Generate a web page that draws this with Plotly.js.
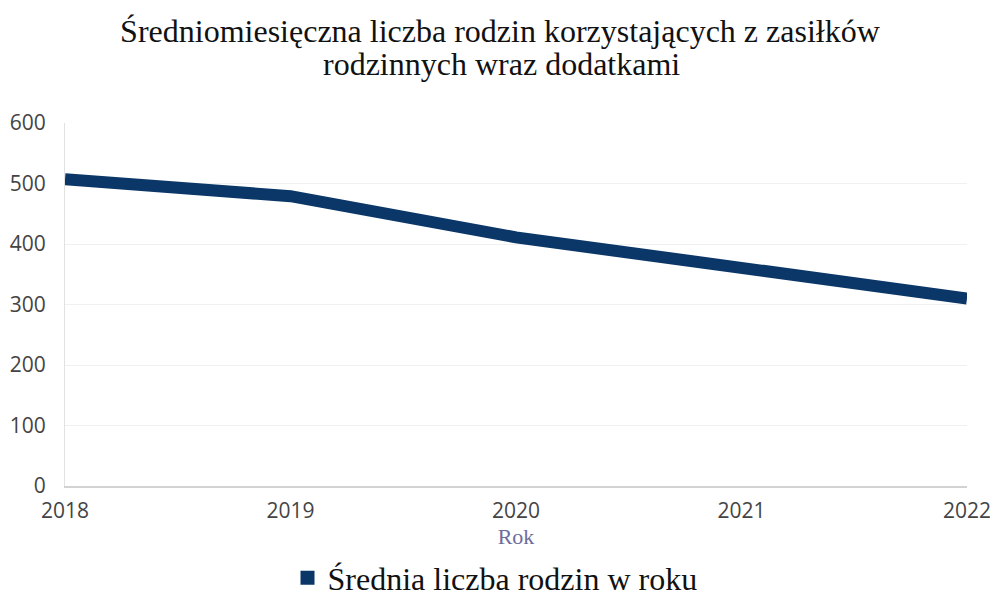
<!DOCTYPE html>
<html>
<head>
<meta charset="utf-8">
<script src="https://cdn.plot.ly/plotly-3.0.1.min.js"></script>
<style>html,body{margin:0;padding:0;background:#fff;}#chart{width:990px;height:596px;}</style>
</head>
<body>
<div id="chart"></div>
<script>
const years = ['2018', '2019', '2020', '2021', '2022'];
const families = [507, 479, 411, 360, 310];
const seriesName = 'Średnia liczba rodzin w roku';
const yTicks = [0, 100, 200, 300, 400, 500, 600];
const titleLine1 = 'Średniomiesięczna liczba rodzin korzystających z zasiłków';
const titleLine2 = 'rodzinnych wraz dodatkami';
const xTitle = 'Rok';

const lineColor = '#0b3768';
const serif = 'Liberation Serif, Times New Roman, serif';
const sans = 'Open Sans, Noto Sans, sans-serif';

const traces = [
  {
    x: years, y: families, type: 'scatter', mode: 'lines',
    line: {color: lineColor, width: 12},
    showlegend: false, hoverinfo: 'x+y'
  },
  {
    x: [null], y: [null], type: 'scatter', mode: 'markers',
    name: seriesName,
    marker: {symbol: 'square', size: 14, color: lineColor}
  }
];

const layout = {
  width: 990, height: 596,
  paper_bgcolor: '#ffffff', plot_bgcolor: '#ffffff',
  margin: {l: 65, r: 23, t: 123, b: 110},
  title: {
    text: titleLine1,
    font: {family: serif, size: 32, color: '#111'},
    x: 0.505, xanchor: 'center', xref: 'container',
    y: 1 - 31 / 596, yanchor: 'middle', yref: 'container'
  },
  annotations: [{
    text: titleLine2, showarrow: false,
    xref: 'paper', yref: 'paper', x: 0.484, y: (486 - 64) / 363,
    xanchor: 'center', yanchor: 'middle',
    font: {family: serif, size: 32, color: '#111'}
  }],
  xaxis: {
    type: 'category',
    range: [0, 4],
    showgrid: false, zeroline: false,
    showline: true, linecolor: '#d2d2d2', linewidth: 2,
    tickfont: {family: sans, size: 21, color: '#444'},
    ticklabelstandoff: 5,
    title: {text: xTitle, font: {family: serif, size: 22, color: '#6c6c9c'}, standoff: 3}
  },
  yaxis: {
    range: [0, 600], tickvals: yTicks,
    showgrid: true, gridcolor: '#f0f0f0', gridwidth: 1,
    zeroline: false,
    showline: true, linecolor: '#e2e2e2', linewidth: 1,
    tickfont: {family: sans, size: 21, color: '#444'},
    ticklabelstandoff: 14
  },
  showlegend: true,
  legend: {
    orientation: 'h', x: 0.5, xanchor: 'center', xref: 'container',
    y: (596 - 578) / 596, yanchor: 'middle', yref: 'container',
    font: {family: serif, size: 32, color: '#111'},
    itemwidth: 30
  }
};

Plotly.newPlot('chart', traces, layout, {displayModeBar: false, staticPlot: true});
</script>
</body>
</html>
